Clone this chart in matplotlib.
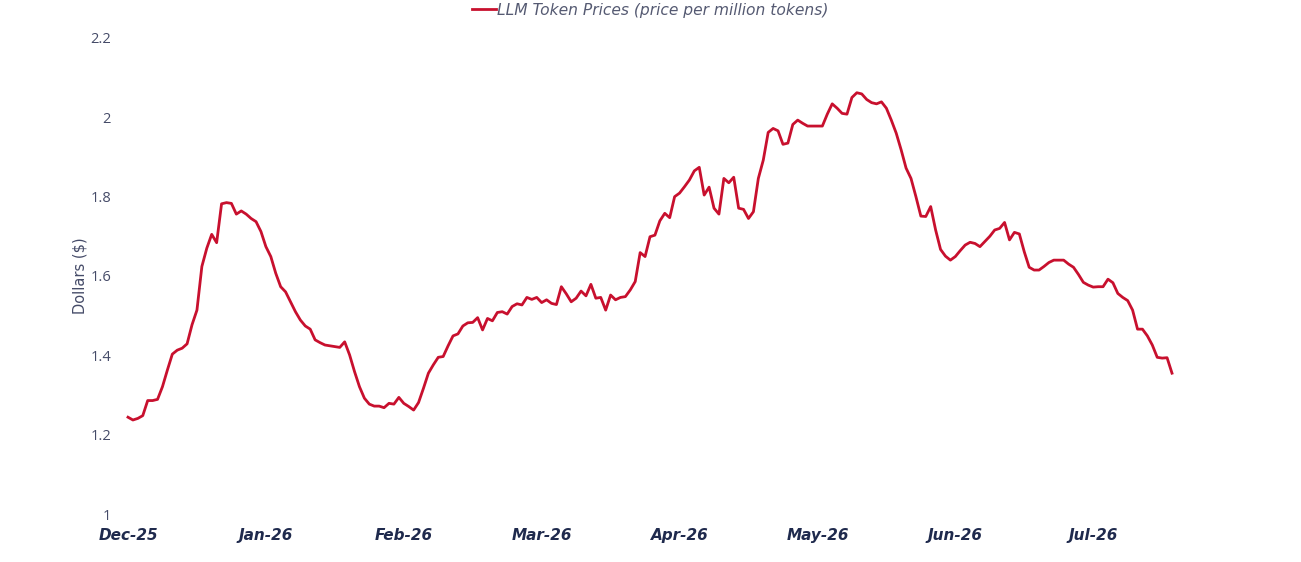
import numpy as np
import matplotlib.pyplot as plt

# price per million tokens (one value per step)
prices = [
    1.244, 1.237, 1.241, 1.248, 1.286, 1.286, 1.289, 1.321, 1.363, 1.403,
    1.413, 1.418, 1.429, 1.477, 1.514, 1.624, 1.670, 1.705, 1.684, 1.782,
    1.785, 1.783, 1.756, 1.764, 1.756, 1.745, 1.737, 1.712, 1.674,
    1.649, 1.607, 1.573, 1.560, 1.535, 1.510, 1.489, 1.474, 1.466, 1.439,
    1.432, 1.426, 1.424, 1.422, 1.420, 1.434, 1.401, 1.359, 1.321, 1.292,
    1.277, 1.272, 1.272, 1.268, 1.279, 1.277, 1.294, 1.279, 1.271, 1.262,
    1.281, 1.317, 1.355, 1.376, 1.395, 1.397, 1.424, 1.449, 1.454, 1.474,
    1.482, 1.483, 1.495, 1.464, 1.493, 1.487, 1.508, 1.510, 1.504, 1.523,
    1.530, 1.527, 1.546, 1.541, 1.546, 1.533, 1.540, 1.531, 1.528,
    1.573, 1.555, 1.535, 1.544, 1.562, 1.550, 1.579, 1.544, 1.546, 1.514,
    1.552, 1.540, 1.546, 1.548, 1.565, 1.586, 1.659, 1.649, 1.699, 1.703,
    1.739, 1.758, 1.747, 1.800, 1.809, 1.825, 1.842, 1.865, 1.874,
    1.804, 1.824, 1.771, 1.756, 1.846, 1.835, 1.849, 1.771, 1.768, 1.745,
    1.762, 1.846, 1.892, 1.962, 1.972, 1.966, 1.932, 1.935, 1.982, 1.993,
    1.985, 1.978, 1.978, 1.978, 1.978, 2.008, 2.034, 2.023, 2.010, 2.008,
    2.050, 2.062, 2.059, 2.045, 2.037, 2.034, 2.039, 2.023, 1.993, 1.960,
    1.918, 1.872, 1.846, 1.800, 1.751, 1.750, 1.775, 1.716, 1.667, 1.650,
    1.640, 1.649, 1.664, 1.678, 1.685, 1.682, 1.674, 1.687, 1.700,
    1.716, 1.720, 1.735, 1.691, 1.710, 1.706, 1.661, 1.622, 1.615, 1.615,
    1.624, 1.634, 1.640, 1.640, 1.640, 1.630, 1.622, 1.604, 1.584, 1.577,
    1.572, 1.573, 1.573, 1.592, 1.583, 1.556, 1.546, 1.538, 1.514, 1.466,
    1.466, 1.449, 1.426, 1.395, 1.393, 1.394, 1.355,
]
month_labels = ["Dec-25", "Jan-26", "Feb-26", "Mar-26", "Apr-26", "May-26", "Jun-26", "Jul-26"]
points_per_month = 28
y_ticks = [1, 1.2, 1.4, 1.6, 1.8, 2, 2.2]

plt.rcParams["font.family"] = ["Open Sans", "DejaVu Sans"]

W, H = 1301, 562
fig = plt.figure(figsize=(W / 100, H / 100), dpi=100)

# axes placed in pixels: left 118, right 1290, bottom y=514, top y=38
ax = fig.add_axes([118 / W, (H - 514) / H, (1290 - 118) / W, (514 - 38) / H])

x = np.arange(len(prices))
ax.plot(x, prices, color="#c8102e", lw=2, label="LLM Token Prices (price per million tokens)")

# first point sits at px 128, last at px 1172
step = (len(prices) - 1) / (1172 - 128)
ax.set_xlim(-10 * step, (1290 - 128) * step)
ax.set_ylim(1, 2.2)

ax.set_xticks(np.arange(len(month_labels)) * points_per_month)
ax.set_xticklabels(month_labels, fontsize=11, fontweight="bold", fontstyle="italic",
                   color="#1f2a4d", family="DejaVu Sans")
for lab in ax.get_xticklabels():
    lab.set_verticalalignment("baseline")
ax.set_yticks(y_ticks)
ax.set_yticklabels([f"{v:g}" for v in y_ticks], fontsize=10.5, color="#454b68")
ax.tick_params(axis="x", length=0, pad=19)
ax.tick_params(axis="y", length=0, pad=5)

ax.set_ylabel("Dollars ($)", fontsize=10.5, color="#454b68", labelpad=2, family="DejaVu Sans")

for s in ax.spines.values():
    s.set_visible(False)

fig.legend(loc="upper center", bbox_to_anchor=(0.5, 1.02), frameon=False,
           handlelength=1.5, handletextpad=0.1,
           prop={"size": 11.2, "style": "italic", "family": "DejaVu Sans"}, labelcolor="#555a72")

fig.savefig("out.png", dpi=100)
